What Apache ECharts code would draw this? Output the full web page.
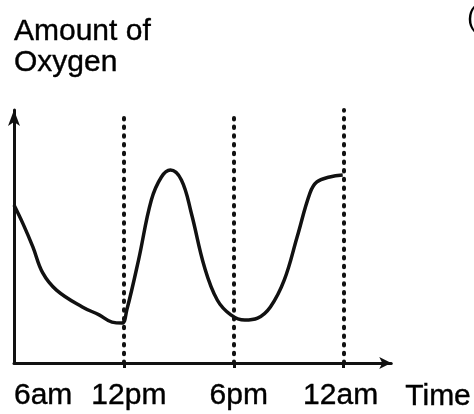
<!DOCTYPE html>
<html>
<head>
<meta charset="utf-8">
<script src="https://cdn.jsdelivr.net/npm/echarts@6/dist/echarts.min.js"></script>
<style>
html,body{margin:0;padding:0;background:#fff;}
#chart{width:474px;height:414px;}
</style>
</head>
<body>
<div id="chart"></div>
<script>
// Hours after 6am
var hours = [0, 0.5, 1.03, 1.57, 2.32, 3.73, 4.65, 5.35, 5.9, 6.16, 6.8, 7.5, 8.05, 8.54, 9.14, 9.68, 10.4, 11.1, 11.84, 12.6, 13.3, 14, 14.76, 15.46, 16.16, 16.54, 17.24, 17.95];
var oxygen = [63.7, 56, 46.8, 36.3, 29.4, 22.6, 19.4, 16.5, 16.1, 21.4, 41.5, 65.7, 75, 77.8, 73.8, 60.5, 38.7, 25.4, 19.4, 17.3, 18.1, 22.6, 33.5, 50.8, 68.5, 73, 75, 75.8];
var tickValues = [0, 6, 12, 18];
var tickLabels = ['6am', '12pm', '6pm', '12am'];
var guideValues = [6, 12, 18];
var guideTops = [101, 101.5, 102];
var yTitle = 'Amount of\nOxygen';
var xTitle = 'Time';

var FONT = '"Liberation Sans", Arial, Helvetica, sans-serif';
var chart = echarts.init(document.getElementById('chart'), null, {renderer: 'canvas'});

var lineData = hours.map(function (h, i) { return [h, oxygen[i]]; });
var guideData = guideValues.map(function (v, i) {
  return [{coord: [v, 0]}, {coord: [v, guideTops[i]]}];
});
var txt = {fontSize: 30, fontFamily: FONT, color: '#000', textBorderColor: '#000', textBorderWidth: 0.4};
var labelRich = {
  l0: Object.assign({}, txt),
  l1: Object.assign({}, txt, {padding: [0, 0, 0, 10]}),
  l2: Object.assign({}, txt, {padding: [0, 0, 0, 10]}),
  l3: Object.assign({}, txt, {padding: [0, 6, 0, 0]})
};

chart.setOption({
  animation: false,
  backgroundColor: '#fff',
  title: {
    text: yTitle,
    left: 9,
    top: 11,
    textStyle: Object.assign({}, txt, {fontWeight: 'normal', lineHeight: 31})
  },
  graphic: [{
    type: 'text', left: 467, top: 4,
    style: {text: '(', fontSize: 28, fontFamily: FONT, fill: '#000'}
  }],
  grid: {left: 14, right: 79, top: 110, bottom: 51, containLabel: false},
  xAxis: {
    type: 'value', min: 0, max: 20.6, interval: 6,
    splitLine: {show: false},
    axisLine: {show: true, lineStyle: {color: '#111', width: 3}, symbol: ['none', 'arrow'], symbolSize: [9, 12]},
    axisTick: {show: true, customValues: guideValues, length: 5, inside: false, lineStyle: {color: '#111', width: 3}},
    axisLabel: {
      customValues: tickValues,
      margin: 18,
      alignMinLabel: 'left',
      formatter: function (v) {
        var i = tickValues.indexOf(v);
        return i < 0 ? '' : '{l' + i + '|' + tickLabels[i] + '}';
      },
      rich: labelRich
    },
    name: xTitle,
    nameLocation: 'end',
    nameGap: 14,
    nameTextStyle: Object.assign({}, txt, {align: 'left', verticalAlign: 'top', padding: [19, 0, 0, 0]})
  },
  yAxis: {
    type: 'value', min: 0, max: 102,
    splitLine: {show: false},
    axisLine: {show: true, lineStyle: {color: '#111', width: 3}, symbol: ['none', 'arrow'], symbolSize: [9, 16]},
    axisTick: {show: false},
    axisLabel: {show: false}
  },
  series: [{
    type: 'line',
    data: lineData,
    smooth: 0.4,
    showSymbol: false,
    lineStyle: {color: '#111', width: 3.5},
    silent: true,
    markLine: {
      silent: true,
      symbol: ['none', 'none'],
      label: {show: false},
      lineStyle: {color: '#111', width: 4, type: [1.5, 7.2], cap: 'round'},
      data: guideData
    }
  }]
});
</script>
</body>
</html>
